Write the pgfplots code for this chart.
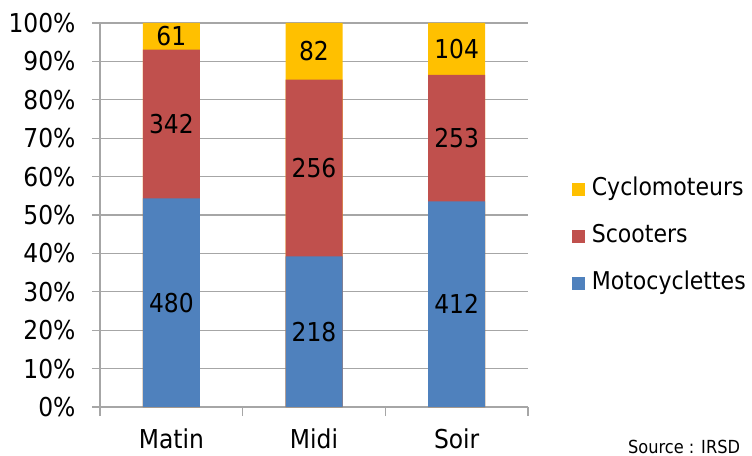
\documentclass[border=0pt]{standalone}
\usepackage{pgfplots}
\pgfplotsset{compat=1.18}
\usepackage{pgfplotstable}
\usepackage{fontspec}
\setmainfont{DejaVu Sans Condensed}

\definecolor{moto}{HTML}{4F81BD}
\definecolor{scoot}{HTML}{C0504D}
\definecolor{cyclo}{HTML}{FFC000}
\definecolor{gridgray}{HTML}{A6A6A6}

% Nombre de deux-roues par période de la journée
\pgfplotstableread{
x moto scoot cyclo
0 480 342 61
1 218 256 82
2 412 253 104
}\trafic

\begin{document}
\begin{tikzpicture}
\path[use as bounding box] (0,0) rectangle (752bp,456bp);
\begin{axis}[
  at={(100bp,49bp)}, anchor=south west,
  scale only axis, width=428bp, height=384bp,
  xmin=-0.5, xmax=2.5, ymin=0, ymax=100,
  axis x line*=bottom, axis y line*=left,
  axis line style={gridgray, line width=1.2bp},
  font=\fontsize{26bp}{30bp}\selectfont,
  xtick={0,1,2}, xticklabels={Matin,Midi,Soir},
  major x tick style={draw=none},
  minor xtick={-0.5,0.5,1.5,2.5},
  tick align=outside, major tick length=8bp, minor tick length=9bp,
  tick style={gridgray, line width=1.2bp},
  ytick={0,10,...,100},
  yticklabels={0\%,10\%,20\%,30\%,40\%,50\%,60\%,70\%,80\%,90\%,100\%},
  ymajorgrids, grid style={gridgray, line width=1.2bp},
  xticklabel style={yshift=-10bp},
  yticklabel style={xshift=-13bp},
  legend style={draw=none, fill=none, at={(1.095,0.445)}, anchor=west,
    row sep=24bp, column sep=7bp,
    font=\fontsize{24.5bp}{28bp}\selectfont,
    nodes={inner sep=0pt, text height=18bp, text depth=5bp}},
  legend cell align=left,
  legend image code/.code={\fill[#1] (0bp,-6.5bp) rectangle (13bp,6.5bp);},
  clip=false,
]
% Barres cumulées : chaque segment est dessiné depuis zéro jusqu'à son cumul
\addplot[ybar, bar width=57bp, bar shift=0pt, fill=cyclo, draw=none]
  table[x=x, y expr={100}] {\trafic};
\addlegendentry{Cyclomoteurs}
\addplot[ybar, bar width=57bp, bar shift=0pt, fill=scoot, draw=none]
  table[x=x, y expr={100*(\thisrow{moto}+\thisrow{scoot})/(\thisrow{moto}+\thisrow{scoot}+\thisrow{cyclo})}] {\trafic};
\addlegendentry{Scooters}
\addplot[ybar, bar width=57bp, bar shift=0pt, fill=moto, draw=none]
  table[x=x, y expr={100*\thisrow{moto}/(\thisrow{moto}+\thisrow{scoot}+\thisrow{cyclo})}] {\trafic};
\addlegendentry{Motocyclettes}

% Effectifs au centre de chaque segment
\addplot[draw=none, mark=none, forget plot, nodes near coords, point meta=explicit symbolic,
  every node near coord/.append style={anchor=center, inner sep=0pt}]
  table[x=x, y expr={50*\thisrow{moto}/(\thisrow{moto}+\thisrow{scoot}+\thisrow{cyclo})}, meta=moto] {\trafic};
\addplot[draw=none, mark=none, forget plot, nodes near coords, point meta=explicit symbolic,
  every node near coord/.append style={anchor=center, inner sep=0pt}]
  table[x=x, y expr={100*(\thisrow{moto}+0.5*\thisrow{scoot})/(\thisrow{moto}+\thisrow{scoot}+\thisrow{cyclo})}, meta=scoot] {\trafic};
\addplot[draw=none, mark=none, forget plot, nodes near coords, point meta=explicit symbolic,
  every node near coord/.append style={anchor=center, inner sep=0pt}]
  table[x=x, y expr={100*(\thisrow{moto}+\thisrow{scoot}+0.5*\thisrow{cyclo})/(\thisrow{moto}+\thisrow{scoot}+\thisrow{cyclo})}, meta=cyclo] {\trafic};
\end{axis}
\node[anchor=base west, inner sep=0pt, font=\fontsize{18bp}{21bp}\selectfont] at (628bp,3bp) {Source : IRSD};
\end{tikzpicture}
\end{document}
